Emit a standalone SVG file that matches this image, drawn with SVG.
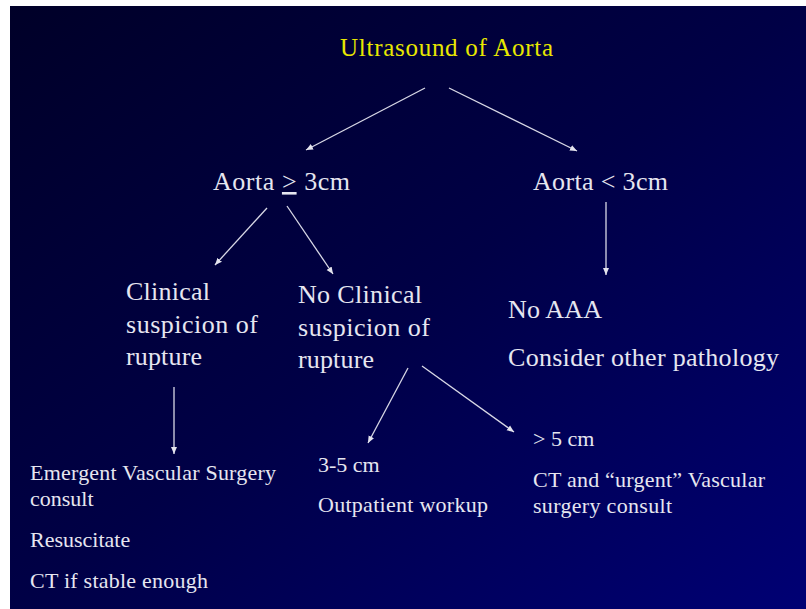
<svg xmlns="http://www.w3.org/2000/svg" width="806" height="609" viewBox="0 0 806 609">
<defs>
<linearGradient id="bg" x1="0" y1="0" x2="1" y2="1">
<stop offset="0" stop-color="#000028"/>
<stop offset="0.5" stop-color="#000046"/>
<stop offset="1" stop-color="#000074"/>
</linearGradient>
<marker id="ah" markerUnits="userSpaceOnUse" markerWidth="8" markerHeight="8" viewBox="0 0 8 8" refX="7" refY="4" orient="auto">
<path d="M0,1 L7,4 L0,7 Z" fill="#e4e4ee"/>
</marker>
<style>
text{font-family:"Liberation Serif","Times New Roman",serif;fill:#e6e6f0}
.t{fill:#e8e800;font-size:25px}
.m{font-size:26px}
.s{font-size:22px}
#connectors line{stroke:#d8d8e6;stroke-width:1.3;marker-end:url(#ah)}
</style>
</defs>
<rect x="0" y="0" width="806" height="609" fill="#ffffff"/>
<rect x="10" y="6" width="796" height="603" fill="url(#bg)"/>
<g id="connectors">
<line x1="425" y1="88" x2="306" y2="150"/>
<line x1="449" y1="88" x2="577" y2="151"/>
<line x1="267" y1="208" x2="215" y2="265"/>
<line x1="287" y1="206" x2="333" y2="274"/>
<line x1="606" y1="202" x2="606" y2="275"/>
<line x1="174" y1="387" x2="174" y2="454"/>
<line x1="408" y1="368" x2="368" y2="443"/>
<line x1="422" y1="366" x2="514" y2="432"/>
</g>
<g id="n-ultrasound"><text class="t" x="340" y="56" textLength="213">Ultrasound  of Aorta</text></g>
<g id="n-ge3"><text class="m" x="213" y="190" textLength="137">Aorta <tspan text-decoration="underline">&gt;</tspan> 3cm</text></g>
<g id="n-lt3"><text class="m" x="533" y="190" textLength="135">Aorta &lt; 3cm</text></g>
<g id="n-clin">
<text class="m" x="126" y="300" textLength="84">Clinical</text>
<text class="m" x="126" y="333" textLength="132">suspicion  of</text>
<text class="m" x="126" y="365" textLength="76">rupture</text>
</g>
<g id="n-noclin">
<text class="m" x="298" y="303" textLength="124">No Clinical</text>
<text class="m" x="298" y="336" textLength="132">suspicion  of</text>
<text class="m" x="298" y="368" textLength="76">rupture</text>
</g>
<g id="n-noaaa">
<text class="m" x="508" y="318" textLength="94">No AAA</text>
<text class="m" x="508" y="366" textLength="271">Consider other pathology</text>
</g>
<g id="n-emergent">
<text class="s" x="30" y="480" textLength="246">Emergent Vascular Surgery</text>
<text class="s" x="30" y="506">consult</text>
<text class="s" x="30" y="547">Resuscitate</text>
<text class="s" x="30" y="588" textLength="178">CT if stable enough</text>
</g>
<g id="n-35">
<text class="s" x="318" y="472">3-5 cm</text>
<text class="s" x="318" y="512" textLength="170">Outpatient workup</text>
</g>
<g id="n-gt5">
<text class="s" x="533" y="446">&gt; 5 cm</text>
<text class="s" x="533" y="487" textLength="232">CT and “urgent” Vascular</text>
<text class="s" x="533" y="513" textLength="139">surgery consult</text>
</g>
</svg>
